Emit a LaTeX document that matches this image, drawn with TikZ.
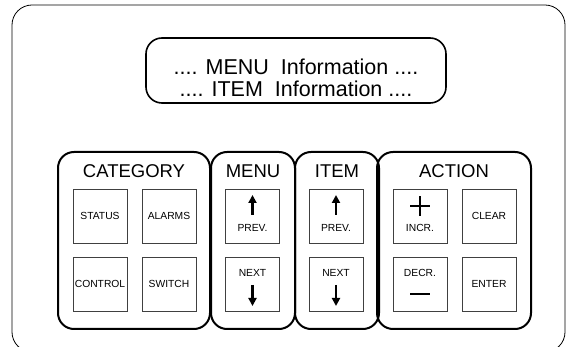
\documentclass[tikz,border=0pt]{standalone}
\usepackage{fontspec}
\setmainfont{Liberation Sans}
\usepackage{tikz}
\usetikzlibrary{shapes,arrows,arrows.meta}

\tikzstyle{frame} = [draw, rectangle, rounded corners=20pt, line width=0.8pt, minimum width=553pt, minimum height=347pt]
\tikzstyle{display} = [draw, rectangle, rounded corners=16pt, line width=1.6pt, minimum width=300pt, minimum height=65pt]
\tikzstyle{info} = [inner sep=0pt, font=\fontsize{21.5}{22}\selectfont]
\tikzstyle{panel} = [draw, rectangle, rounded corners=16pt, line width=2pt, minimum height=177pt]
\tikzstyle{head} = [font=\fontsize{18.5}{20}\selectfont]
\tikzstyle{key} = [draw=black!75, rectangle, line width=0.7pt, minimum width=54pt, minimum height=54pt, inner sep=0pt, font=\fontsize{10.3}{12}\selectfont]
\tikzstyle{keytext} = [inner sep=0pt, font=\fontsize{10.3}{12}\selectfont]
\tikzstyle{keyarrow} = [draw, line width=2.2pt, -{Triangle[length=8pt,width=8pt]}]
\tikzstyle{sign} = [draw, line width=2pt]

\begin{document}
\begin{tikzpicture}[x=1pt, y=-1pt]
	\useasboundingbox (0,0) rectangle (573,347);
	\node [frame] (frame) at (288.5,178.5) {};
	
	% display window
	\node [display] (display) at (296,70.5) {};
	\node [info, anchor=base] (menuinfo) at ([yshift=-4pt]display.center) {.... MENU\ \ Information ....};
	\node [info, anchor=base] (iteminfo) at ([yshift=-26pt]display.center) {.... ITEM\ \ Information ....};
	
	% the four key groups
	\node [panel, minimum width=152pt] (category) at (134,240.5) {};
	\node [panel, minimum width=84pt, right of=category, node distance=119pt] (menu) {};
	\node [panel, minimum width=84pt, right of=menu, node distance=84pt] (item) {};
	\node [panel, minimum width=154pt, right of=item, node distance=117pt] (action) {};
	
	\node [head] (cathead) at ([yshift=-20pt]category.north) {CATEGORY};
	\node [head] (menuhead) at ([yshift=-20pt]menu.north) {MENU};
	\node [head] (itemhead) at ([yshift=-20pt]item.north) {ITEM};
	\node [head] (acthead) at ([yshift=-20pt]action.north) {ACTION};
	
	% category keys
	\node [key] (status) at (100,216) {STATUS};
	\node [key, right of=status, node distance=69pt] (alarms) {ALARMS};
	\node [key, below of=status, node distance=68pt] (control) {CONTROL};
	\node [key, right of=control, node distance=69pt] (switch) {SWITCH};
	
	% menu keys
	\node [key] (menuprev) at (252.5,216) {};
	\node [key, below of=menuprev, node distance=68pt] (menunext) {};
	\node [keytext] (menuprevtxt) at ([yshift=-12pt]menuprev.center) {PREV.};
	\node [keytext] (menunexttxt) at ([yshift=11pt]menunext.center) {NEXT};
	\draw [keyarrow] ([yshift=1pt]menuprev.center) -- ([yshift=21pt]menuprev.center);
	\draw [keyarrow] ([yshift=-1pt]menunext.center) -- ([yshift=-22pt]menunext.center);
	
	% item keys
	\node [key] (itemprev) at (336,216) {};
	\node [key, below of=itemprev, node distance=68pt] (itemnext) {};
	\node [keytext] (itemprevtxt) at ([yshift=-12pt]itemprev.center) {PREV.};
	\node [keytext] (itemnexttxt) at ([yshift=11pt]itemnext.center) {NEXT};
	\draw [keyarrow] ([yshift=1pt]itemprev.center) -- ([yshift=21pt]itemprev.center);
	\draw [keyarrow] ([yshift=-1pt]itemnext.center) -- ([yshift=-22pt]itemnext.center);
	
	% action keys
	\node [key] (incr) at (420,216) {};
	\node [key, right of=incr, node distance=69pt] (clear) {CLEAR};
	\node [key, below of=incr, node distance=68pt] (decr) {};
	\node [key, right of=decr, node distance=69pt] (enter) {ENTER};
	\node [keytext] (incrtxt) at ([yshift=-12pt]incr.center) {INCR.};
	\node [keytext] (decrtxt) at ([yshift=11pt]decr.center) {DECR.};
	\draw [sign] ([shift={(-10pt,10pt)}]incr.center) -- ([shift={(10pt,10pt)}]incr.center);
	\draw [sign] ([shift={(0pt,0pt)}]incr.center) -- ([shift={(0pt,20pt)}]incr.center);
	\draw [sign] ([shift={(-10pt,-10pt)}]decr.center) -- ([shift={(10pt,-10pt)}]decr.center);
\end{tikzpicture}
\end{document}
